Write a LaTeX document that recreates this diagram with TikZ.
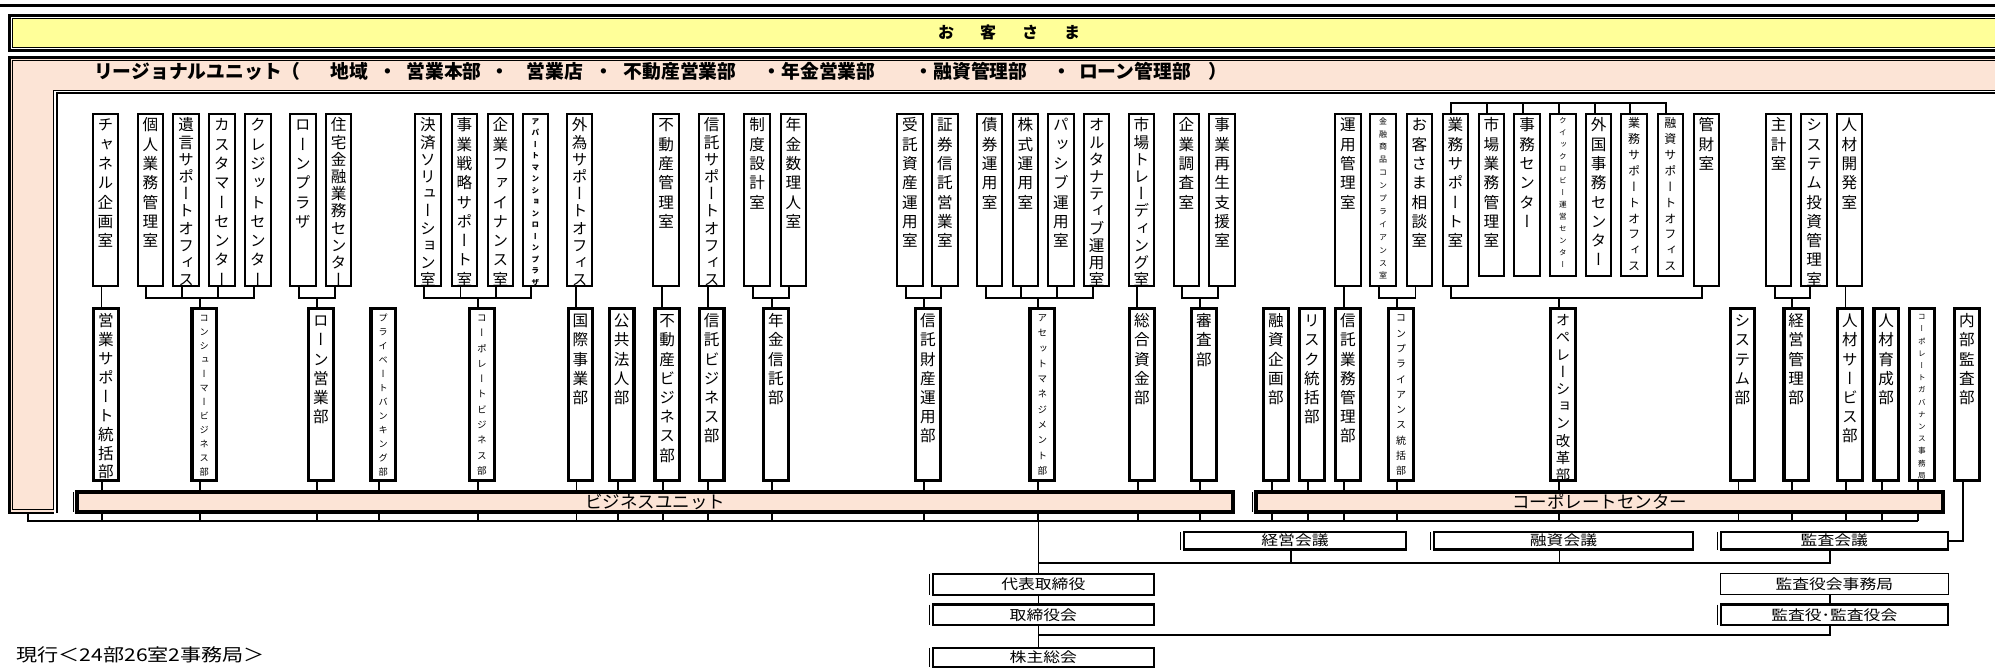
\documentclass[tikz,border=0pt]{standalone}
\usepackage{fontspec}
\setmainfont{Noto Sans CJK JP}
\newfontfamily\vfont{Noto Sans CJK JP}[RawFeature=+vert]
\newfontfamily\wfont{Noto Sans CJK JP}[FakeStretch=1.2]
\usetikzlibrary{calc}
\definecolor{ylw}{RGB}{255,255,153}
\definecolor{pnk}{RGB}{252,228,214}
\pgfdeclarelayer{back}
\pgfdeclarelayer{bg}
\pgfsetlayers{back,bg,main}

\ExplSyntaxOn
\seq_new:N \l_myvt_seq
\NewDocumentCommand \vtext { m }
 {
  \seq_clear:N \l_myvt_seq
  \tl_map_inline:nn {#1} { \seq_put_right:Nn \l_myvt_seq {##1} }
  \rule{0pt}{0.88em}\seq_use:Nn \l_myvt_seq { \\ }
 }
\ExplSyntaxOff

\tikzset{
 ln/.style={line width=0.9pt},
 tbox/.style={draw, line width=1pt, fill=white, inner sep=0pt, outer sep=0pt, minimum width=12.75pt, minimum height=86pt},
 tboxs/.style={tbox, minimum height=81pt},
 bbox/.style={draw, line width=1.6pt, fill=white, inner sep=0pt, outer sep=0pt, minimum width=12.3pt, minimum height=86.15pt},
 vtxt/.style 2 args={anchor=north, inner sep=0pt, align=center, font=\vfont\fontsize{#1}{#2}\selectfont},
 leftthin/.style={append after command={([xshift=-1.7pt]\tikzlastnode.north west) edge[line width=0.45pt] ([xshift=-1.7pt]\tikzlastnode.south west)}},
 cboxthin/.style={draw, line width=1.2pt, fill=white, inner sep=0pt, outer sep=0pt, minimum width=#1, minimum height=8.8pt, font=\wfont\fontsize{7}{8}\selectfont},
 cbox/.style={cboxthin=#1, leftthin},
 bar/.style={draw, line width=2pt, fill=pnk, inner sep=0pt, outer sep=0pt, minimum width=#1, minimum height=9.75pt, font=\fontsize{8.75}{9}\selectfont, leftthin},
 rt/.style={anchor=base, inner sep=0pt, font=\bfseries\fontsize{9.4}{10}\selectfont},
}

\newcommand\mkbox[7]{%
 \node[#1] (#2) at (#3) {};
 \node[vtxt={#4}{#5}, yshift=#6] (#2t) at (#2.north) {\vtext{#7}};
 \coordinate (#2s) at ([xshift=-2pt]#2.south);
 \coordinate (#2n) at ([xshift=-2pt]#2.north);}
\newcommand\TopB[5]{\mkbox{tbox}{#1}{#2,199.7}{#3}{#4}{-1.5pt}{#5}}
\newcommand\TopS[5]{\mkbox{tboxs}{#1}{#2,194.7}{#3}{#4}{-1.5pt}{#5}}
\newcommand\BotB[5]{\mkbox{bbox}{#1}{#2,394.35}{#3}{#4}{-2.2pt}{#5}}
\newcommand\brkB[3]{%
 \draw[ln] (#1s) -- (#1s|-bk) -- (#2s|-bk) -- (#2s);
 \draw[ln] (#3n) -- (#3n|-bk);}
\newcommand\brkM[4]{%
 \draw[ln] (#1s) -- (#1s|-bk) -- (#2s|-bk) -- (#2s);
 \foreach \q in {#3} {\draw[ln] (\q s) -- (\q s|-bk);}
 \draw[ln] (#4n) -- (#4n|-bk);}

\begin{document}
\begin{tikzpicture}[x=0.5pt,y=-0.5pt]
\useasboundingbox (0,0) rectangle (1995,669);

% ---------- frames ----------
\begin{pgfonlayer}{back}
 \draw[line width=1.5pt] (0,5.5) -- (1997,5.5);
 \draw[line width=1.3pt] (9.3,15.3) rectangle (2010,50.7);
 \draw[line width=0.5pt, fill=ylw] (12.9,18.9) rectangle (2010,47.2);
 \fill[pnk] (9.3,57.3) rectangle (2010,513);
 \draw[line width=1.3pt] (2010,57.3) -- (9.3,57.3) -- (9.3,513) -- (56.8,513);
 \draw[line width=0.5pt] (2010,60.9) -- (12.9,60.9) -- (12.9,509.4) -- (53.8,509.4);
 \fill[white] (53.8,90) rectangle (2010,530);
 \draw[line width=0.5pt] (53.8,509.4) -- (53.8,90) -- (2010,90);
 \draw[line width=1.2pt] (56.8,513) -- (56.8,92.8) -- (2010,92.8);
\end{pgfonlayer}

% ---------- titles ----------
\node[anchor=base, inner sep=0pt, font=\bfseries\fontsize{8}{9}\selectfont] (okyaku) at (1009,38)
  {お\hspace{13pt}客\hspace{13pt}さ\hspace{13pt}ま};
\foreach \i/\x/\s in {1/188/リージョナルユニット, 2/291/（, 3/349/地域, 4/388/・, 5/444/営業本部,
  6/500/・, 7/555/営業店, 8/604/・, 9/680/不動産営業部, 10/819/・年金営業部,
  11/971/・融資管理部, 12/1062/・, 13/1135/ローン管理部, 14/1218/）}
  {\node[rt] (r\i) at (\x,78.5) {\s};}

% ---------- upper row (rooms) ----------
\TopB{t1}{105.5}{7.8}{9.65}{チャネル企画室}
\TopB{t2}{150.3}{7.8}{9.65}{個人業務管理室}
\TopB{t3}{186.2}{7.8}{8.6}{遺言サポートオフィス}
\TopB{t4}{222}{7.8}{9.65}{カスタマーセンター}
\TopB{t5}{258}{7.8}{9.65}{クレジットセンター}
\TopB{t6}{303}{7.8}{9.65}{ローンプラザ}
\TopB{t7}{338.7}{7.8}{8.6}{住宅金融業務センター}
\TopB{t8}{428}{7.8}{8.6}{決済ソリューション室}
\TopB{t9}{464.5}{7.8}{9.65}{事業戦略サポート室}
\TopB{t10}{500.3}{7.8}{9.65}{企業ファイナンス室}
\node[tbox] (t11) at (535.3,199.7) {};
\node[vtxt={3.8}{5.75}, font=\vfont\bfseries\fontsize{3.8}{5.75}\selectfont, yshift=-1.8pt] (t11t) at (t11.north) {\vtext{アパートマンションローンプラザ}};
\coordinate (t11s) at ([xshift=-2pt]t11.south);
\TopB{t12}{579.7}{7.8}{8.6}{外為サポートオフィス}
\TopB{t13}{666.2}{7.8}{9.65}{不動産管理室}
\TopB{t14}{711.7}{7.8}{8.6}{信託サポートオフィス}
\TopB{t15}{757.2}{7.8}{9.65}{制度設計室}
\TopB{t16}{793.3}{7.8}{9.65}{年金数理人室}
\TopB{t17}{910}{7.8}{9.65}{受託資産運用室}
\TopB{t18}{945}{7.8}{9.65}{証券信託営業室}
\TopB{t19}{989.7}{7.8}{9.65}{債券運用室}
\TopB{t20}{1025.3}{7.8}{9.65}{株式運用室}
\TopB{t21}{1060.8}{7.8}{9.65}{パッシブ運用室}
\TopB{t22}{1096.7}{7.8}{8.6}{オルタナティブ運用室}
\TopB{t23}{1141.3}{7.8}{8.6}{市場トレーディング室}
\TopB{t24}{1186.3}{7.8}{9.65}{企業調査室}
\TopB{t25}{1222.2}{7.8}{9.65}{事業再生支援室}
\TopB{t26}{1348}{7.8}{9.65}{運用管理室}
\TopB{t27}{1383}{4}{6.45}{金融商品コンプライアンス室}
\TopB{t28}{1419.5}{7.8}{9.65}{お客さま相談室}
\TopB{t29}{1455.3}{7.8}{9.65}{業務サポート室}
\TopS{t30}{1491.3}{7.8}{9.65}{市場業務管理室}
\TopS{t31}{1527.2}{7.8}{9.65}{事務センター}
\TopS{t32}{1563}{3.8}{6}{クイックロビー運営センター}
\TopS{t33}{1598.7}{7.8}{9.65}{外国事務センター}
\TopS{t34}{1634.2}{6}{7.95}{業務サポートオフィス}
\TopS{t35}{1670.3}{6}{7.95}{融資サポートオフィス}
\TopB{t36}{1706.3}{7.8}{9.65}{管財室}
\TopB{t37}{1778.7}{7.8}{9.65}{主計室}
\TopB{t38}{1814.2}{7.8}{9.65}{システム投資管理室}
\TopB{t39}{1849.5}{7.8}{9.65}{人材開発室}

% ---------- lower row (departments) ----------
\BotB{b1}{105.8}{7.8}{9.45}{営業サポート統括部}
\BotB{b2}{204.3}{4.6}{7}{コンシューマービジネス部}
\BotB{b3}{320.8}{7.8}{9.6}{ローン営業部}
\BotB{b4}{383.3}{4.6}{7}{プライベートバンキング部}
\BotB{b5}{481.8}{4.8}{7.65}{コーポレートビジネス部}
\BotB{b6}{580.5}{7.8}{9.6}{国際事業部}
\BotB{b7}{621.7}{7.8}{9.6}{公共法人部}
\BotB{b8}{667.2}{7.8}{9.6}{不動産ビジネス部}
\BotB{b9}{711.7}{7.8}{9.6}{信託ビジネス部}
\BotB{b10}{775.8}{7.8}{9.6}{年金信託部}
\BotB{b11}{928}{7.8}{9.6}{信託財産運用部}
\BotB{b12}{1042.3}{4.8}{7.65}{アセットマネジメント部}
\BotB{b13}{1141.8}{7.8}{9.6}{総合資金部}
\BotB{b14}{1203.8}{7.8}{9.6}{審査部}
\BotB{b15}{1275.8}{7.8}{9.6}{融資企画部}
\BotB{b16}{1311.8}{7.8}{9.6}{リスク統括部}
\BotB{b17}{1347.8}{7.8}{9.6}{信託業務管理部}
\BotB{b18}{1401}{5}{7.65}{コンプライアンス統括部}
\BotB{b19}{1563}{7.2}{8.6}{オペレーション改革部}
\BotB{b20}{1742.5}{7.8}{9.6}{システム部}
\BotB{b21}{1796.2}{7.8}{9.6}{経営管理部}
\BotB{b22}{1849.8}{7.8}{9.6}{人材サービス部}
\BotB{b23}{1886.2}{7.8}{9.6}{人材育成部}
\BotB{b24}{1922}{3.8}{6.1}{コーポレートガバナンス事務局}
\BotB{b25}{1967}{7.8}{9.6}{内部監査部}

% ---------- unit bars ----------
\node[bar=578pt] (bu) at (655,501.75) {ビジネスユニット};
\node[bar=343.5pt] (cc) at (1599.5,501.75) {コーポレートセンター};

% ---------- governance ----------
\node[cbox=110.8pt] (keiei) at (1295,540.7) {経営会議};
\node[cbox=129.3pt] (yushi) at (1563.5,540.7) {融資会議};
\node[cbox=113.5pt] (kansa) at (1834.3,540.7) {監査会議};
\node[cbox=110.55pt, minimum height=10.45pt] (daihyo) at (1043.3,584.3) {代表取締役};
\node[cbox=110.55pt, minimum height=10.15pt] (torishimari) at (1043.3,614.7) {取締役会};
\node[cbox=110.55pt, minimum height=9.6pt] (kabu) at (1043.3,657.5) {株主総会};
\node[cboxthin=114.1pt, line width=0.6pt, minimum height=10.55pt] (jimu) at (1834.3,583.8) {監査役会事務局};
\node[cbox=113.5pt, minimum height=10.15pt] (kansayaku) at (1834.3,614.7) {監査役･監査役会};

\node[anchor=base west, inner sep=0pt, font=\wfont\fontsize{8.8}{9}\selectfont] (genko) at (16,661.5) {現行＜24部26室2事務局＞};

% ---------- connectors ----------
\begin{pgfonlayer}{bg}
 \coordinate (bk) at (0,297.7);
 \coordinate (tk) at (0,102.7);
 \coordinate (dl) at (0,521.3);
 \coordinate (cl) at (0,563.3);
 \coordinate (bl) at (0,635);
 \coordinate (rg) at (28.3,513);
 % direct links
 \draw[ln] (t1s) -- (t1s|-b1n);
 \draw[ln] (t12s) -- (t12s|-b6n);
 \draw[ln] (t13s) -- (t13s|-b8n);
 \draw[ln] (t14s) -- (t14s|-b9n);
 \draw[ln] (t23s) -- (t23s|-b13n);
 \draw[ln] (t26s) -- (t26s|-b17n);
 \draw[ln] (t39s) -- (t39s|-b22n);
 % brackets
 \brkM{t2}{t5}{t3,t4}{b2}
 \brkB{t6}{t7}{b3}
 \brkM{t8}{t11}{t9,t10}{b5}
 \brkB{t15}{t16}{b10}
 \brkB{t17}{t18}{b11}
 \brkM{t19}{t22}{t20,t21}{b12}
 \brkB{t24}{t25}{b14}
 \brkB{t27}{t28}{b18}
 \brkB{t29}{t36}{b19}
 \brkB{t37}{t38}{b21}
 % top bracket over operations rooms
 \draw[ln] (t29n) -- (t29n|-tk) -- (t35n|-tk) -- (t35n);
 \foreach \q in {t30,t31,t32,t33,t34} {\draw[ln] (\q n) -- (\q n|-tk);}
 % distribution line under the units
 \foreach \k in {1,...,24} {\draw[ln] (b\k s) -- (b\k s|-dl);}
 \draw[ln] (rg) -- (rg|-dl) -- (b24s|-dl);
 % trunk
 \coordinate (tr) at (b12s|-dl);
 \draw[line width=0.7pt] (tr) -- (tr|-kabu.north);
 % councils
 \coordinate (keieis) at ([xshift=-2pt]keiei.south);
 \coordinate (yushis) at ([xshift=-2pt]yushi.south);
 \coordinate (kansas) at ([xshift=-2pt]kansa.south);
 \draw[ln] (tr|-cl) -- (kansas|-cl) -- (kansas);
 \draw[ln] (keieis) -- (keieis|-cl);
 \draw[ln] (yushis) -- (yushis|-cl);
 \draw[ln] (b25s) |- (kansa.east);
 % auditors
 \coordinate (jimus) at ([xshift=-2pt]jimu.south);
 \coordinate (kysn) at ([xshift=-2pt]kansayaku.north);
 \coordinate (kyss) at ([xshift=-2pt]kansayaku.south);
 \draw[ln] (jimus) -- (kysn);
 \draw[ln] (tr|-bl) -- (kyss|-bl) -- (kyss);
\end{pgfonlayer}
\end{tikzpicture}
\end{document}
